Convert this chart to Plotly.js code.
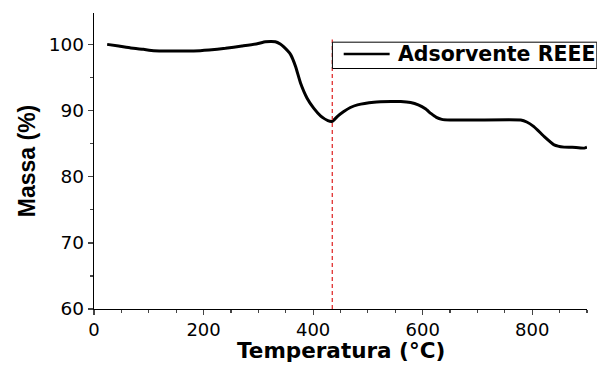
<!DOCTYPE html>
<html><head><meta charset="utf-8">
<script src="https://cdn.plot.ly/plotly-3.0.1.min.js"></script>
<style>html,body{margin:0;padding:0;background:#fff}#chart{width:597px;height:365px}</style>
</head><body><div id="chart"></div>
<script>
const temperature = [24, 45, 67, 90, 109, 140, 182, 210, 240, 270, 298, 313, 331, 340, 346, 359, 368, 377, 389, 401, 414, 427, 435, 445, 456, 468, 481, 511, 542, 560, 578, 592, 605, 615, 625, 635, 650, 700, 779, 790, 803, 822, 840, 858, 880, 895, 900];
const mass = [100.05, 99.8, 99.5, 99.3, 99.1, 99.05, 99.05, 99.2, 99.45, 99.8, 100.15, 100.45, 100.45, 100.1, 99.7, 98.5, 96.7, 94.2, 91.9, 90.4, 89.2, 88.5, 88.4, 89.2, 89.9, 90.5, 90.9, 91.3, 91.4, 91.4, 91.25, 90.9, 90.3, 89.6, 89.0, 88.7, 88.6, 88.6, 88.6, 88.3, 87.6, 86.1, 84.85, 84.5, 84.45, 84.35, 84.5];
const seriesName = "Adsorvente REEE";
const xTitle = "Temperatura (°C)";
const yTitle = "Massa (%)";
const markerTemp = 435;
const markerTop = 100.8;
const xTicks = [0, 200, 400, 600, 800];
const yTicks = [60, 70, 80, 90, 100];

const trace = {x: temperature, y: mass, type: 'scatter', mode: 'lines', name: seriesName,
  line: {color: '#000', width: 3, shape: 'spline', smoothing: 0.35}, showlegend: false};

// legend box geometry (paper coordinates)
const lgX0 = 0.4836, lgX1 = 1.02, lgY0 = 0.8125, lgY1 = 0.9014, lgMid = 0.8615;

const layout = {
  width: 597, height: 365,
  margin: {l: 93.5, r: 10.3, t: 13, b: 56},
  paper_bgcolor: '#fff', plot_bgcolor: '#fff',
  showlegend: false,
  xaxis: {range: [0, 900], tickvals: xTicks, ticks: 'outside', ticklen: 5, tickwidth: 1.2,
    showline: true, linecolor: '#000', linewidth: 1.3, showgrid: false, zeroline: false,
    tickfont: {family: 'DejaVu Sans', size: 18, color: '#000'}, ticklabelstandoff: -1,
    minor: {dtick: 50, ticks: 'outside', ticklen: 3, tickwidth: 1.2, showgrid: false}},
  yaxis: {range: [60, 104.8], tickvals: yTicks, ticks: 'outside', ticklen: 5, tickwidth: 1.2,
    showline: true, linecolor: '#000', linewidth: 1.3, showgrid: false, zeroline: false,
    tickfont: {family: 'DejaVu Sans', size: 18.5, color: '#000'},
    minor: {dtick: 5, ticks: 'outside', ticklen: 3, tickwidth: 1.2, showgrid: false},
    title: {text: yTitle, standoff: 6,
      font: {family: 'Liberation Sans, Arial', size: 23, color: '#000', weight: 'bold'}}},
  shapes: [
    {type: 'line', xref: 'x', yref: 'y', x0: markerTemp, x1: markerTemp, y0: 60, y1: markerTop,
      line: {color: '#e03030', width: 1.3, dash: '4px,3px'}},
    {type: 'rect', xref: 'paper', yref: 'paper', x0: lgX0, x1: lgX1, y0: lgY0, y1: lgY1,
      fillcolor: '#fff', line: {color: '#000', width: 1}},
    {type: 'line', xref: 'paper', yref: 'paper', x0: 0.5065, x1: 0.5997, y0: lgMid, y1: lgMid,
      line: {color: '#000', width: 2.5}}
  ],
  annotations: [
    {xref: 'paper', yref: 'paper', x: 0.5, y: -0.1858, xanchor: 'center', yanchor: 'bottom',
      text: '<b>' + xTitle + '</b>', showarrow: false, borderpad: 0,
      font: {family: 'DejaVu Sans', size: 21.5, color: '#000'}},
    {xref: 'paper', yref: 'paper', x: 0.6133, y: lgMid, xanchor: 'left', yanchor: 'middle',
      text: '<b>' + seriesName + '</b>', showarrow: false,
      font: {family: 'DejaVu Sans', size: 20.5, color: '#000'}}
  ]
};
Plotly.newPlot('chart', [trace], layout, {displayModeBar: false, staticPlot: true});
</script></body></html>
